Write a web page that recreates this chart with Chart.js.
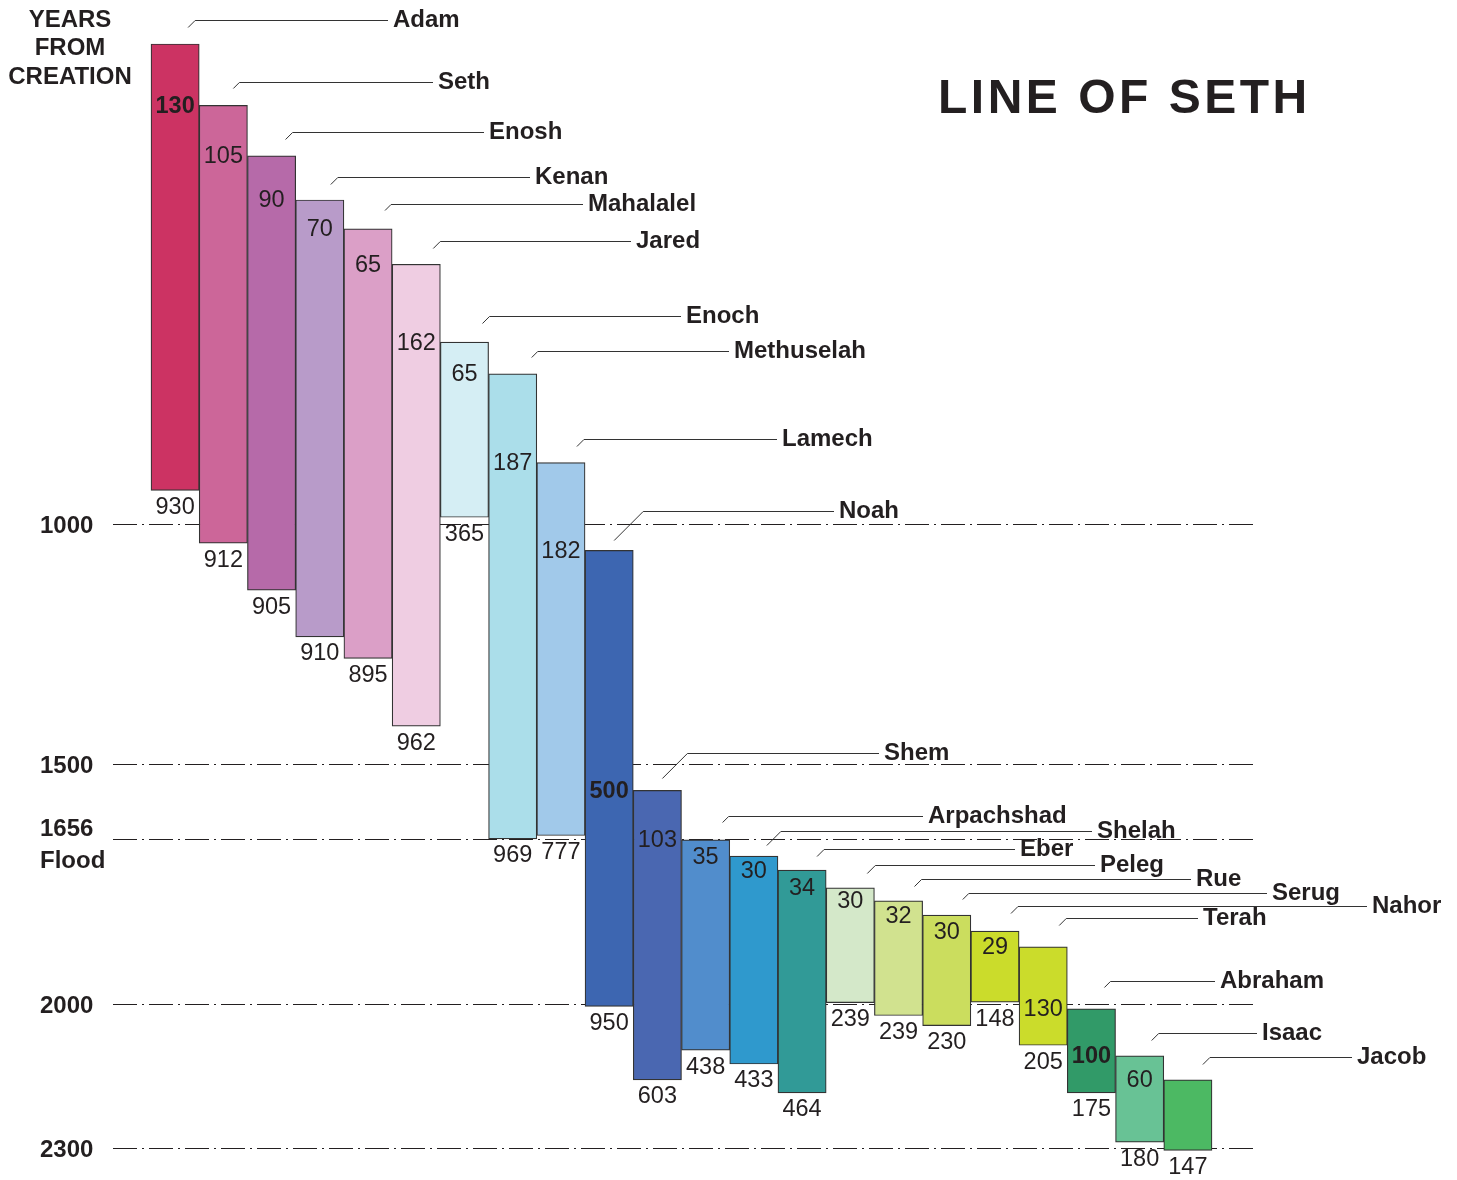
<!DOCTYPE html>
<html>
<head>
<meta charset="utf-8">
<title>Line of Seth</title>
<script src="https://cdn.jsdelivr.net/npm/chart.js@4.4.1/dist/chart.umd.min.js"></script>
<style>
  html, body { margin:0; padding:0; background:#fff; }
  #wrap { width:1457px; height:1180px; position:relative; }
</style>
</head>
<body>
<div id="wrap"><canvas id="seth"></canvas></div>
<script>
const names = ["Adam","Seth","Enosh","Kenan","Mahalalel","Jared","Enoch","Methuselah","Lamech","Noah","Shem",
  "Arpachshad","Shelah","Eber","Peleg","Rue","Serug","Nahor","Terah","Abraham","Isaac","Jacob"];
// year of birth, counted from creation
const born = [0,128,233,325,385,459,621,687,872,1055,1555,1658,1692,1721,1758,1785,1815,1848,1881,2010,2108,2158];
// age when the next in line was born (number at the top of each bar)
const ageAtSon = [130,105,90,70,65,162,65,187,182,500,103,35,30,34,30,32,30,29,130,100,60,null];
// length of life (number under each bar)
const lifespan = [930,912,905,910,895,962,365,969,777,950,603,438,433,464,239,239,230,148,205,175,180,147];
const gridYears = [1000,1500,1656,2000,2300];
const gridLabels = ["1000","1500",["1656","Flood"],"2000","2300"];
const boldAges = ["Adam","Noah","Abraham"];

const barColors = ["#cc3363","#cc6699","#b66aa9","#b89bc9","#db9fc7","#efcde2","#d5eef4","#abdeea","#a1c9ea",
  "#3d66b1","#4a67b1","#518dcc","#2f99cd","#319a97","#d4e8c9","#d1e28f","#cbdd5e","#cbdc2b","#cbdc2b",
  "#319a68","#68c295","#4cb963"];

// name label layout: text x (px), leader height above bar top (px), slanted foot size (px), foot x from bar centre (px)
const nameX    = [393,438,489,535,588,636,686,734,782,839,884,928,1097,1020,1100,1196,1272,1372,1203,1220,1262,1357];
const nameRise = [24,23,24,23,25,23,26,23,24,39,37,24,25,21,23,22,22,25,29,28,23,23];
const footSize = [7,6,7,7,6,7,7,6,7,29,25,6,14,7,8,7,6,7,7,6,7,7];
const footX    = [13,10,14,11,17,17,18,19,16,5,5,17,13,15,17,16,16,16,16,13,12,15];

const ink = "#231f20";
const FONT = "'Liberation Sans', Arial, Helvetica, sans-serif";
Chart.defaults.font.family = FONT;
Chart.defaults.color = ink;

const annotate = {
  id: "annotate",
  beforeDatasetsDraw(chart) {
    const { ctx, chartArea: a, scales: { y } } = chart;
    ctx.save();
    ctx.strokeStyle = ink; ctx.lineWidth = 1.2; ctx.setLineDash([24,5,2,5]);
    gridYears.forEach(v => {
      const py = Math.round(y.getPixelForValue(v)) + 0.5;
      ctx.beginPath(); ctx.moveTo(a.left - 38, py); ctx.lineTo(a.right + 45, py); ctx.stroke();
    });
    ctx.setLineDash([]);
    // year labels on the left
    ctx.fillStyle = ink; ctx.textAlign = "left"; ctx.textBaseline = "middle";
    ctx.font = "bold 24px " + FONT;
    gridYears.forEach((v, i) => {
      const py = y.getPixelForValue(v);
      const lab = gridLabels[i];
      if (Array.isArray(lab)) lab.forEach((t, k) => ctx.fillText(t, 40, py - 10 + k * 32));
      else ctx.fillText(lab, 40, py + 2);
    });
    ["YEARS","FROM","CREATION"].forEach((t, k) => {
      ctx.textAlign = "center"; ctx.fillText(t, 70, 20 + k * 28.5);
    });
    // title
    ctx.font = "bold 48px " + FONT;
    ctx.textAlign = "left";
    if ("letterSpacing" in ctx) ctx.letterSpacing = "3.5px";
    ctx.fillText("LINE OF SETH", 938, 100);
    ctx.restore();
  },
  afterDatasetsDraw(chart) {
    const { ctx, scales: { y } } = chart;
    const bars = chart.getDatasetMeta(0).data;
    ctx.save();
    ctx.fillStyle = ink; ctx.strokeStyle = "#333"; ctx.lineWidth = 1;
    ctx.textBaseline = "middle";
    bars.forEach((b, i) => {
      ctx.textAlign = "center";
      if (ageAtSon[i] != null) {
        ctx.font = (boldAges.includes(names[i]) ? "bold " : "") + "23.5px " + FONT;
        ctx.fillText(String(ageAtSon[i]), b.x, y.getPixelForValue(born[i + 1]) + 1);
      }
      ctx.font = "23.5px " + FONT;
      ctx.fillText(String(lifespan[i]), b.x, y.getPixelForValue(born[i] + lifespan[i]) + 17);

      const top = y.getPixelForValue(born[i]);
      const ly = Math.round(top - nameRise[i]) + 0.5;
      const sx = b.x + footX[i];
      ctx.beginPath();
      ctx.moveTo(sx, ly + footSize[i]);
      ctx.lineTo(sx + footSize[i], ly);
      ctx.lineTo(nameX[i] - 5, ly);
      ctx.stroke();
      ctx.font = "bold 24px " + FONT;
      ctx.textAlign = "left";
      ctx.fillText(names[i], nameX[i], ly);
    });
    ctx.restore();
  }
};

new Chart(document.getElementById("seth"), {
  type: "bar",
  data: {
    labels: names,
    datasets: [{
      data: names.map((_, i) => [born[i], born[i] + lifespan[i]]),
      backgroundColor: barColors,
      borderColor: "#333",
      borderWidth: 1.2,
      borderSkipped: false,
      categoryPercentage: 1,
      barPercentage: 1,
      clip: false,
    }],
  },
  options: {
    responsive: true, maintainAspectRatio: false, animation: false,
    layout: { padding: { left: 151, right: 245, top: 44, bottom: 32 } },
    plugins: { legend: { display: false }, tooltip: { enabled: false }, title: { display: false } },
    scales: {
      x: { display: false },
      y: { display: false, reverse: true, min: 0, max: 2300 },
    },
  },
  plugins: [annotate],
});
</script>
</body>
</html>
